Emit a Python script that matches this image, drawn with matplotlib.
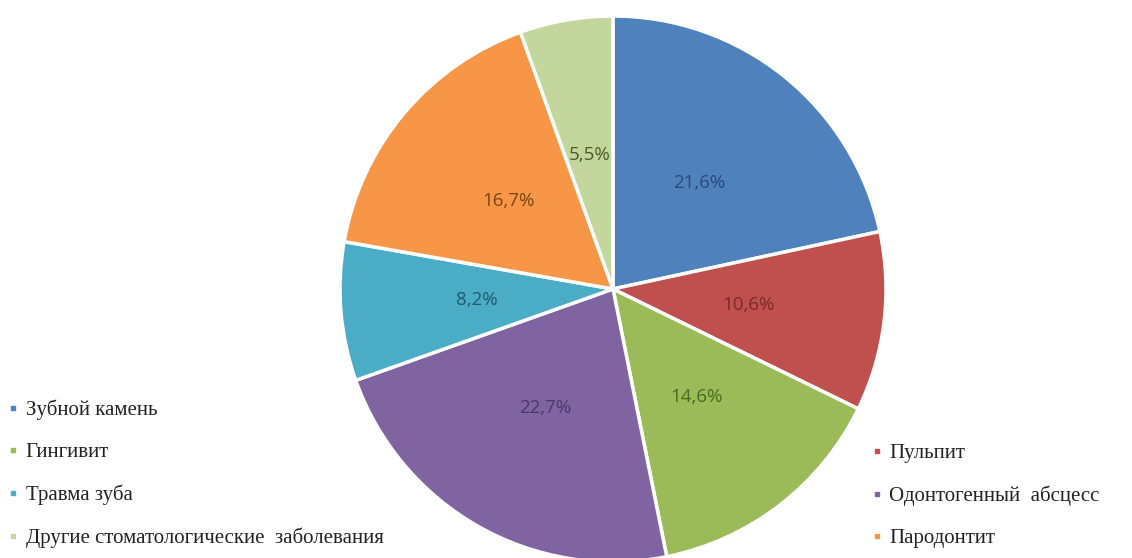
import matplotlib
matplotlib.use("Agg")
import matplotlib.pyplot as plt
from matplotlib.lines import Line2D

categories = ["Зубной камень", "Пульпит", "Гингивит", "Одонтогенный  абсцесс",
              "Травма зуба", "Пародонтит", "Другие стоматологические  заболевания"]
values = [21.6, 10.6, 14.6, 22.7, 8.2, 16.7, 5.5]

colors = ["#4F81BD", "#C0504D", "#9BBB59", "#8064A2", "#4BACC6", "#F79646", "#C3D69B"]
label_colors = ["#2B4A78", "#7A2A28", "#4A6A1E", "#4A3868", "#1F5A6A", "#7A4412", "#4A5A2A"]

fig = plt.figure(figsize=(11.32, 5.58), dpi=100)
W, H = 1132, 558
cx, cy, r = 613, 289, 273
ax = fig.add_axes([(cx - r) / W, 1 - (cy + r) / H, 2 * r / W, 2 * r / H])

wedges, texts = ax.pie(values, colors=colors, startangle=90, counterclock=False,
                       labels=[("%.1f%%" % v).replace(".", ",") for v in values],
                       labeldistance=0.5,
                       wedgeprops=dict(edgecolor="white", linewidth=2.5),
                       textprops=dict(fontsize=13.5, family="Open Sans"))
for t, c in zip(texts, label_colors):
    t.set_color(c)
    t.set_ha("center")
    t.set_va("center")
ax.set_xlim(-1, 1)
ax.set_ylim(-1, 1)
ax.set_aspect("equal")
ax.axis("off")

# legend split in two columns like the original
def handle(c):
    return Line2D([], [], marker="s", linestyle="none", markersize=3.5,
                  markerfacecolor=c, markeredgecolor=c)

left_idx = [0, 2, 4, 6]
right_idx = [1, 3, 5]
common = dict(frameon=False, handlelength=0.4, handletextpad=0.4,
              labelspacing=1.08, borderaxespad=0, borderpad=0,
              prop=dict(family="Liberation Serif", size=15))
leg1 = fig.legend([handle(colors[i]) for i in left_idx], [categories[i] for i in left_idx],
                  loc="lower left", bbox_to_anchor=(0.008, 0.018), **common)
leg2 = fig.legend([handle(colors[i]) for i in right_idx], [categories[i] for i in right_idx],
                  loc="lower left", bbox_to_anchor=(0.771, 0.018), **common)
for leg in (leg1, leg2):
    for t in leg.get_texts():
        t.set_color("#222222")

fig.savefig("out.png", dpi=100, facecolor="white")
